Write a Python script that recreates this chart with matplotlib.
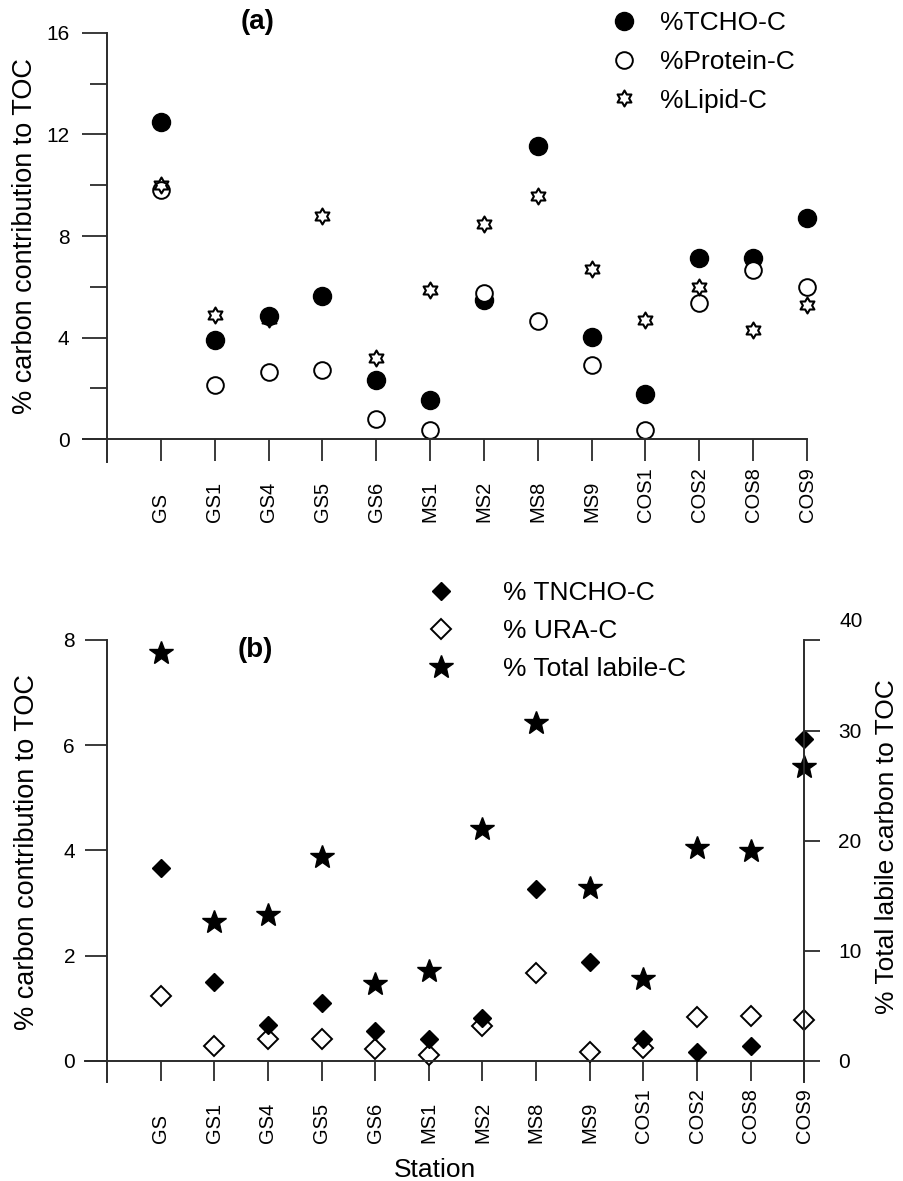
import numpy as np
import matplotlib
matplotlib.use('Agg')
import matplotlib.pyplot as plt
from matplotlib.path import Path
from matplotlib.ticker import MultipleLocator

plt.rcParams['font.family'] = ['Liberation Sans', 'DejaVu Sans']

stations = ['GS', 'GS1', 'GS4', 'GS5', 'GS6', 'MS1', 'MS2', 'MS8', 'MS9',
            'COS1', 'COS2', 'COS8', 'COS9']

# panel (a): % carbon contribution to TOC
tcho_c = [12.5, 3.9, 4.85, 5.64, 2.35, 1.54, 5.48, 11.56, 4.03, 1.80, 7.12, 7.12, 8.70]
protein_c = [9.8, 2.13, 2.65, 2.72, 0.80, 0.38, 5.74, 4.65, 2.94, 0.35, 5.37, 6.66, 6.0]
lipid_c = [10.0, 4.89, 4.75, 8.79, 3.18, 5.87, 8.46, 9.59, 6.69, 4.69, 5.98, 4.32, 5.28]

# panel (b)
tncho_c = [3.67, 1.51, 0.69, 1.11, 0.57, 0.42, 0.81, 3.26, 1.88, 0.41, 0.17, 0.29, 6.12]
ura_c = [1.23, 0.28, 0.42, 0.42, 0.22, 0.11, 0.66, 1.67, 0.17, 0.24, 0.83, 0.86, 0.77]
total_labile_c = [37.05, 12.6, 13.3, 18.5, 7.03, 8.2, 21.07, 30.7, 15.7, 7.45, 19.4, 19.1, 26.7]

x = np.arange(1, len(stations) + 1)
hexagram = Path.unit_regular_star(6, 1 / np.sqrt(3))
axcol = '#2b2b2b'

fig = plt.figure(figsize=(9.04, 11.81), dpi=100)
ax_a = fig.add_axes([0.0916, 0.6091, 0.8011, 0.3632])
ax_b = fig.add_axes([0.0935, 0.08425, 0.7962, 0.3739])


def style_axes(ax):
    for s in ['top', 'right']:
        ax.spines[s].set_visible(False)
    ax.spines['left'].set_position(('data', 0))
    ax.spines['bottom'].set_position(('data', 0))
    for s in ['left', 'bottom']:
        ax.spines[s].set_linewidth(1.4)
        ax.spines[s].set_color(axcol)
    ax.patch.set_visible(False)


# ---- (a)
ax_a.plot(x, tcho_c, 'o', ms=13, color='black', clip_on=False, label='%TCHO-C')
ax_a.plot(x, protein_c, 'o', ms=12, mfc='white', mec='black', mew=1.4,
          clip_on=False, label='%Protein-C')
ax_a.plot(x, lipid_c, ls='none', marker=hexagram, ms=11.5, mfc='none', mec='black',
          mew=1.5, clip_on=False, label='%Lipid-C')

style_axes(ax_a)
ax_a.set_xlim(-0.45, 13)
ax_a.set_ylim(-0.88, 16)
ax_a.set_yticks([0, 4, 8, 12, 16])
ax_a.yaxis.set_minor_locator(MultipleLocator(2))
ax_a.tick_params(axis='y', which='major', length=18, width=1.3, pad=9,
                 labelsize=15, color=axcol)
ax_a.tick_params(axis='y', which='minor', length=12, width=1.3, color=axcol)
ax_a.set_xticks(x, stations, rotation=90, va='bottom')
ax_a.tick_params(axis='x', length=16, width=1.3, pad=43.6, labelsize=14.5, color=axcol)
ax_a.set_ylabel('% carbon contribution to TOC', fontsize=19.5)
ax_a.yaxis.set_label_coords(-0.062, 0.526)

ax_a.legend(loc='upper left', bbox_to_anchor=(610.8 / 904, 1 - 11 / 1181),
            bbox_transform=fig.transFigure, frameon=False, fontsize=19,
            handlelength=1.0, handletextpad=0.85, labelspacing=0.56,
            borderpad=0, borderaxespad=0, numpoints=1)
fig.text(0.2854, 0.9814, '(a)', ha='center', va='center', fontsize=20,
         fontweight='bold')

# ---- (b)
k = 4.785  # right / left axis scale
ax_b.plot(x, ura_c, 'D', ms=10, mfc='white', mec='black', mew=1.4,
          clip_on=False, zorder=2, label='% URA-C')
ax_b.plot(x, tncho_c, 'D', ms=9.5, color='black', clip_on=False, zorder=3,
          label='% TNCHO-C')

style_axes(ax_b)
ax_b.set_xlim(-0.42, 13)
ax_b.set_ylim(-0.39, 8)
ax_b.set_yticks([0, 2, 4, 6, 8])
ax_b.tick_params(axis='y', length=16, width=1.3, pad=7, labelsize=15, color=axcol)
ax_b.set_xticks(x, stations, rotation=90, va='bottom')
ax_b.tick_params(axis='x', length=14.5, width=1.3, pad=44.3, labelsize=14.5, color=axcol)
ax_b.set_ylabel('% carbon contribution to TOC', fontsize=19.5)
ax_b.yaxis.set_label_coords(-0.0618, 0.52)
ax_b.set_xlabel('Station', fontsize=19)
ax_b.xaxis.set_label_coords(0.487, -0.173)

ax2 = ax_b.twinx()
ax2.plot(x, total_labile_c, '*', ms=18, color='black', clip_on=False,
         label='% Total labile-C')
for s in ['top', 'left', 'bottom']:
    ax2.spines[s].set_visible(False)
ax2.spines['right'].set_position(('data', 13))
ax2.spines['right'].set_linewidth(1.4)
ax2.spines['right'].set_color(axcol)
ax2.set_ylim(-0.39 * k, 8 * k)
ax2.set_yticks([0, 10, 20, 30, 8 * k], ['0', '10', '20', '30', ''])
ax2.tick_params(axis='y', length=11.5, width=1.3, pad=13, labelsize=15, color=axcol)
ax2.annotate('40', xy=(13, 40), xytext=(35, 0), textcoords='offset pixels',
             ha='left', va='center', fontsize=15, annotation_clip=False)
ax2.set_ylabel('% Total labile carbon to TOC', fontsize=19)
ax2.yaxis.set_label_coords(1.098, 0.533)

h1, l1 = ax_b.get_legend_handles_labels()
h2, l2 = ax2.get_legend_handles_labels()
handles = [h1[1], h1[0], h2[0]]
labels = [l1[1], l1[0], l2[0]]
ax2.legend(handles, labels, loc='upper left',
           bbox_to_anchor=(414.6 / 904, 1 - 581 / 1181),
           bbox_transform=fig.transFigure, frameon=False, fontsize=19,
           handlelength=2.0, handletextpad=1.35, labelspacing=0.53,
           borderpad=0, borderaxespad=0, numpoints=1)
fig.text(0.282, 0.4496, '(b)', ha='center', va='center', fontsize=20,
         fontweight='bold')

fig.savefig('out.png', dpi=100)
